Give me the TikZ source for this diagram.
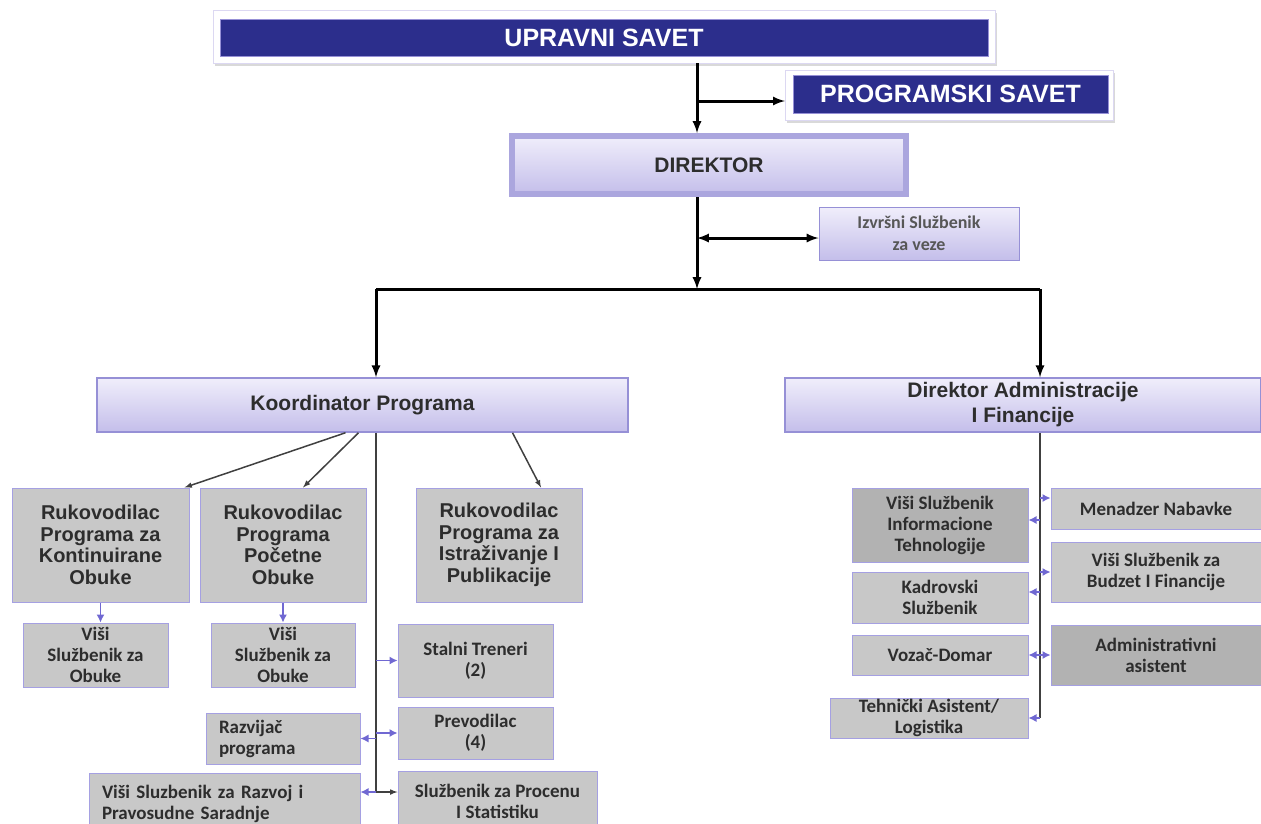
\documentclass[tikz,border=0pt]{standalone}
\usepackage{fontspec}
\setmainfont{Liberation Sans}
\newfontfamily\subfont{Carlito}
\usetikzlibrary{shadows,arrows.meta}
\definecolor{navyC}{RGB}{44,46,140}
\definecolor{lavT}{RGB}{240,238,251}
\definecolor{lavB}{RGB}{196,190,234}
\definecolor{lavD}{RGB}{150,144,214}
\definecolor{greyL}{RGB}{200,200,200}
\definecolor{greyD}{RGB}{178,178,178}
\definecolor{greyB}{RGB}{165,160,226}
\definecolor{lineP}{RGB}{112,104,210}
\definecolor{textC}{RGB}{45,45,45}

\begin{document}
\begin{tikzpicture}[x=1pt,y=-1pt,>=latex]
\tikzstyle{savetframe}=[rectangle,fill=white,draw=lavB!60,drop shadow={opacity=0.3,shadow xshift=2pt,shadow yshift=-3pt}]
\tikzstyle{navy}=[rectangle,fill=navyC,draw=lavD,text=white,font=\bfseries\fontsize{25}{30}\selectfont]
\tikzstyle{head}=[rectangle,top color=lavT,bottom color=lavB,draw=lavD,line width=1.5pt,inner sep=2pt,text=textC,align=center,font=\bfseries\fontsize{21}{25}\selectfont]
\tikzstyle{ruk}=[rectangle,fill=greyL,draw=greyB,line width=1pt,inner sep=0pt,text=textC,align=center,font=\bfseries\fontsize{20}{21.5}\selectfont]
\tikzstyle{sub}=[ruk,font=\subfont\bfseries\fontsize{19}{21}\selectfont]
\tikzstyle{bar}=[line width=3pt,black]
\tikzstyle{link}=[->,line width=1.5pt,black!75]
\tikzstyle{parr}=[-{Latex[length=8pt,width=8pt]},line width=1.2pt,lineP]
\useasboundingbox (0,0) rectangle (1261,823);

\node[savetframe,minimum width=782,minimum height=53] (uprF) at (604,36.5) {};
\node[navy,minimum width=768,minimum height=37] (upr) at (604,38) {UPRAVNI SAVET};
\node[savetframe,minimum width=328,minimum height=50] (prgF) at (949,95) {};
\node[navy,minimum width=315,minimum height=38] (prg) at (950.5,94) {PROGRAMSKI SAVET};
\node[head,line width=6pt,draw=lavD!80,minimum width=394,minimum height=58] (dir) at (709,165) {DIREKTOR};
\node[head,line width=1pt,minimum width=200,minimum height=53,text=textC!80,font=\subfont\bfseries\fontsize{18}{22}\selectfont] (izv) at (919,233.5) {Izvršni Službenik\\za veze};
\node[head,minimum width=531,minimum height=54] (koo) at (362.5,405) {Koordinator Programa};
\node[head,minimum width=476,minimum height=54] (adm) at (1023,405) {Direktor Administracije\\I Financije};

\node[ruk,minimum width=177,minimum height=114] (rukK) at (100.5,545) {Rukovodilac\\Programa za\\Kontinuirane\\Obuke};
\node[ruk,minimum width=166,minimum height=114] (rukP) at (283,545) {Rukovodilac\\Programa\\Početne\\Obuke};
\node[ruk,minimum width=166,minimum height=114] (rukI) at (499,545) {Rukovodilac\\Programa za\\Istraživanje I\\Publikacije};
\node[sub,minimum width=145,minimum height=64] (obuK) at (95.5,655) {Viši\\Službenik za\\Obuke};
\node[sub,minimum width=144,minimum height=64] (obuP) at (283,655) {Viši\\Službenik za\\Obuke};
\node[sub,minimum width=155,minimum height=73] (tren) at (475.5,660.5) {Stalni Treneri\\(2)};
\node[sub,minimum width=155,minimum height=52] (prev) at (475.5,733) {Prevodilac\\(4)};
\node[sub,minimum width=154,minimum height=51,align=left,text width=128] (razv) at (283,738.5) {Razvijač\\programa};
\node[sub,minimum width=271,minimum height=62,align=left,text width=245] (pravo) at (224.5,804) {Viši Sluzbenik za Razvoj i\\Pravosudne Saradnje};
\node[sub,minimum width=199,minimum height=61] (proc) at (497.5,801.5) {Službenik za Procenu\\I Statistiku};

\node[sub,fill=greyD,minimum width=176,minimum height=74] (vit) at (940,525) {Viši Službenik\\Informacione\\Tehnologije};
\node[sub,minimum width=176,minimum height=51] (kad) at (940,597.5) {Kadrovski\\Službenik};
\node[sub,minimum width=176,minimum height=40] (voz) at (940,655) {Vozač-Domar};
\node[sub,minimum width=198,minimum height=40] (teh) at (929,718) {Tehnički Asistent/\\Logistika};
\node[sub,minimum width=210,minimum height=41] (men) at (1156,508.5) {Menadzer Nabavke};
\node[sub,minimum width=210,minimum height=60] (bud) at (1156,572) {Viši Službenik za\\Budzet I Financije};
\node[sub,fill=greyD,minimum width=210,minimum height=60] (asi) at (1156,655) {Administrativni\\asistent};

\coordinate (jU) at (697,101);
\coordinate (jI) at (697,238);
\coordinate (jD) at (697,289);
\coordinate (jL) at (376,289);
\coordinate (jR) at (1040,289);
\coordinate (kB) at (376,792);
\coordinate (aB) at (1040,718);

\draw[bar] (uprF.south -| jU) -- (jU);
\draw[bar,->] (jU) -- (jU |- dir.north);
\draw[bar,->] (jU) -- (jU -| prgF.west);
\draw[bar,->] (dir.south -| jD) -- (jD);
\draw[bar,<->] (jI) -- (jI -| izv.west);
\draw[bar] (jL) -- (jR);
\draw[bar,->] (jL) -- (jL |- koo.north);
\draw[bar,->] (jR) -- (jR |- adm.north);

\draw[link] ([xshift=-17pt]koo.south) -- ([xshift=-5pt]rukK.north east);
\draw[link] ([xshift=-4pt]koo.south) -- ([xshift=20pt]rukP.north);
\draw[link] ([xshift=150pt]koo.south) -- ([xshift=42pt]rukI.north);
\draw[link] (jL |- koo.south) -- (kB) -- (kB -| proc.west);
\draw[parr] (rukK.south) -- (rukK.south |- obuK.north);
\draw[parr] (rukP.south) -- (rukP.south |- obuP.north);
\draw[parr] (kB |- tren.west) -- (tren.west);
\draw[parr] (kB |- prev.west) -- (prev.west);
\draw[parr] (kB |- razv.east) -- (razv.east);
\draw[parr] (kB) -- (kB -| pravo.east);

\draw[link,-] (jR |- adm.south) -- (aB);
\draw[parr] (aB) -- (aB -| teh.east);
\foreach \n/\y/\s in {men/498/west,vit/520/east,bud/572/west,kad/592/east,voz/655/east,asi/655/west}{
  \coordinate (s\n) at (1040,\y);
  \draw[parr] (s\n) -- (s\n -| \n.\s);
}
\end{tikzpicture}
\end{document}
